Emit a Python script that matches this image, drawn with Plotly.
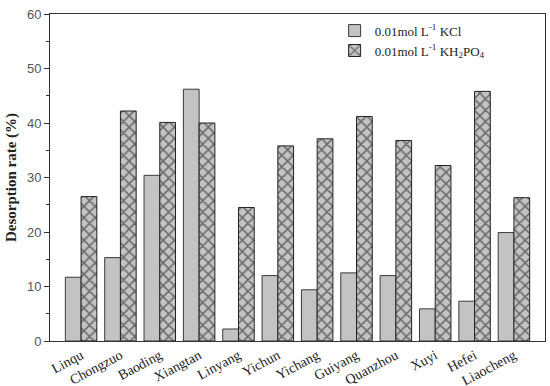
import plotly.graph_objects as go

sites = ["Linqu", "Chongzuo", "Baoding", "Xiangtan", "Linyang", "Yichun",
         "Yichang", "Guiyang", "Quanzhou", "Xuyi", "Hefei", "Liaocheng"]
kcl = [11.7, 15.3, 30.4, 46.2, 2.2, 12.0, 9.4, 12.5, 12.0, 5.9, 7.3, 19.9]
kh2po4 = [26.5, 42.2, 40.1, 40.0, 24.5, 35.8, 37.1, 41.2, 36.8, 32.2, 45.8, 26.3]
y_ticks = [0, 10, 20, 30, 40, 50, 60]

fig = go.Figure()
fig.add_trace(go.Bar(
    x=sites, y=kcl, name="0.01mol L<sup>-1</sup> KCl",
    marker=dict(color="#c3c3c3", line=dict(color="#3a3a3a", width=1)),
))
fig.add_trace(go.Bar(
    x=sites, y=kh2po4, name="0.01mol L<sup>-1</sup> KH<sub>2</sub>PO<sub>4</sub>",
    marker=dict(color="#c3c3c3", line=dict(color="#222222", width=1),
                pattern=dict(shape="x", fgcolor="#111111", bgcolor="#c3c3c3",
                             size=8, solidity=0.35)),
))

fig.update_layout(
    width=550, height=386,
    margin=dict(l=50, r=5, t=14, b=45),
    paper_bgcolor="white", plot_bgcolor="white",
    barmode="group", bargap=0.2, bargroupgap=0,
    showlegend=True,
    legend=dict(x=0.575, y=0.995, xanchor="left", yanchor="top",
                bgcolor="rgba(0,0,0,0)", tracegroupgap=0,
                font=dict(family="Liberation Serif", size=13, color="#222"),
                itemwidth=30),
    font=dict(family="Liberation Serif", color="#222"),
)
fig.update_xaxes(
    range=[-0.79, 11.79], showline=True, linecolor="#333", linewidth=1, mirror=True,
    ticks="", tickangle=-28, automargin=False,
    tickfont=dict(family="Liberation Serif", size=14, color="#222"),
)
fig.update_yaxes(
    range=[0, 60], tickvals=y_ticks, showline=True, linecolor="#333", linewidth=1,
    mirror=True, ticks="outside", ticklen=5, tickcolor="#333", showgrid=False,
    zeroline=False, automargin=False,
    minor=dict(ticks="outside", ticklen=3, tickcolor="#333", dtick=5),
    tickfont=dict(family="Liberation Sans", size=13, color="#555"),
    title=dict(text="<b>Desorption rate (%)</b>", standoff=6,
               font=dict(family="Liberation Serif", size=15, color="#222")),
)

fig.write_html("out.html", config={"displayModeBar": False},
               post_script="document.body.style.margin='0';")
